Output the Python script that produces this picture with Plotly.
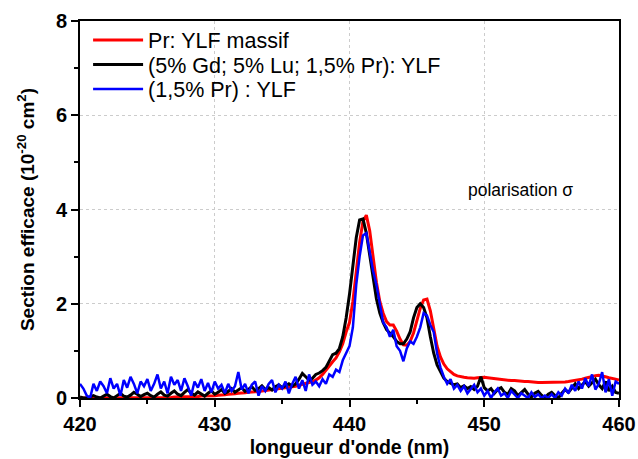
import numpy as np
import plotly.graph_objects as go

# wavelength grid (nm), 0.25 nm step
wavelength = [round(420 + 0.25 * i, 2) for i in range(161)]

red_massif = [
    0.0, 0.0, 0.0, 0.0, 0.0, 0.0, 0.0, 0.0, 0.0, 0.0, 0.0, 0.0, 0.0, 0.0, 0.0, 0.0, 0.0, 0.0, 0.0, 0.0,
    0.0, 0.0, 0.0, 0.0, 0.01, 0.01, 0.01, 0.01, 0.02, 0.02, 0.02, 0.02, 0.03, 0.03, 0.03, 0.03, 0.04, 0.04, 0.04, 0.05,
    0.05, 0.06, 0.06, 0.07, 0.08, 0.08, 0.09, 0.1, 0.1, 0.11, 0.12, 0.12, 0.13, 0.14, 0.15, 0.15, 0.16, 0.17, 0.18, 0.19,
    0.2, 0.21, 0.22, 0.23, 0.25, 0.27, 0.29, 0.3, 0.33, 0.35, 0.38, 0.43, 0.5, 0.58, 0.68, 0.77, 0.85, 0.98, 1.15, 1.4,
    1.6, 2.05, 2.65, 3.3, 3.75, 3.88, 3.55, 3.0, 2.45, 2.05, 1.8, 1.62, 1.55, 1.55, 1.42, 1.25, 1.13, 1.12, 1.2, 1.38,
    1.65, 1.9, 2.08, 2.1, 1.85, 1.45, 1.1, 0.87, 0.72, 0.62, 0.55, 0.5, 0.47, 0.45, 0.44, 0.43, 0.42, 0.42, 0.43, 0.44,
    0.44, 0.43, 0.42, 0.41, 0.4, 0.39, 0.38, 0.38, 0.37, 0.37, 0.36, 0.36, 0.35, 0.35, 0.34, 0.34, 0.33, 0.33, 0.33, 0.33,
    0.33, 0.33, 0.33, 0.34, 0.34, 0.35, 0.36, 0.37, 0.38, 0.4, 0.42, 0.44, 0.46, 0.47, 0.48, 0.47, 0.45, 0.43, 0.42, 0.4,
    0.38,
]

black_codoped = [
    0.02, 0.0, 0.0, 0.03, 0.05, 0.02, 0.0, 0.04, 0.08, 0.03, 0.0, 0.05, 0.1, 0.04, 0.02, 0.06, 0.12, 0.08, 0.03, 0.07,
    0.1, 0.05, 0.02, 0.08, 0.13, 0.06, 0.04, 0.1, 0.15, 0.08, 0.05, 0.12, 0.18, 0.1, 0.06, 0.13, 0.08, 0.04, 0.1, 0.15,
    0.08, 0.12, 0.18, 0.1, 0.14, 0.2, 0.12, 0.17, 0.22, 0.14, 0.18, 0.24, 0.16, 0.2, 0.26, 0.18, 0.22, 0.17, 0.24, 0.28,
    0.22, 0.26, 0.3, 0.25, 0.3, 0.4, 0.52, 0.45, 0.38, 0.42, 0.5, 0.53, 0.58, 0.65, 0.8, 0.92, 0.95, 1.05, 1.3, 1.7,
    2.2, 2.8, 3.4, 3.78, 3.8, 3.5, 3.0, 2.5, 2.1, 1.8, 1.6, 1.45, 1.38, 1.3, 1.2, 1.15, 1.15, 1.25, 1.4, 1.7,
    1.92, 2.0, 1.92, 1.7, 1.3, 0.95, 0.7, 0.55, 0.42, 0.35, 0.32, 0.28, 0.3, 0.22, 0.26, 0.2, 0.24, 0.18, 0.25, 0.45,
    0.22, 0.15, 0.2, 0.1, 0.18, 0.22, 0.12, 0.08, 0.2, 0.15, 0.05, 0.12, 0.18, 0.08, 0.02, 0.1, 0.14, 0.06, 0.0, 0.08,
    0.12, 0.05, 0.0, 0.1, 0.18, 0.12, 0.22, 0.3, 0.2, 0.28, 0.35, 0.25, 0.32, 0.4, 0.28, 0.2, 0.35, 0.15, 0.25, 0.12,
    0.1,
]

blue_pr = [
    0.3, 0.2, 0.05, 0.0, 0.3, 0.15, 0.35, 0.25, 0.1, 0.42, 0.2, 0.3, 0.05, 0.38, 0.22, 0.45, 0.3, 0.1, 0.35, 0.25,
    0.4, 0.15, 0.3, 0.5, 0.2, 0.35, 0.1, 0.45, 0.28, 0.38, 0.15, 0.42, 0.25, 0.05, 0.35, 0.22, 0.4, 0.15, 0.32, 0.12,
    0.35, 0.2, 0.28, 0.1, 0.3, 0.15, 0.25, 0.55, 0.18, 0.3, 0.1, 0.28, 0.35, 0.05, 0.25, 0.15, 0.3, 0.38, 0.12, 0.28,
    0.2, 0.35, 0.1, 0.3, 0.45, 0.2, 0.38, 0.15, 0.5, 0.28, 0.35, 0.25, 0.4, 0.3, 0.5, 0.45, 0.6, 0.55, 0.8, 0.95,
    1.1, 1.5, 2.4, 3.0, 3.45, 3.5, 3.1, 2.7, 2.4, 2.0, 1.6, 1.5, 1.3, 1.45, 1.1, 1.0, 0.78, 1.05, 1.2, 1.15,
    1.3, 1.5, 1.8, 1.75, 1.55, 1.4, 0.95, 0.65, 0.45, 0.3, 0.4, 0.2, 0.28, 0.15, 0.25, 0.1, 0.2, 0.28, 0.12, 0.2,
    0.05, 0.15, 0.0, 0.12, 0.2, 0.05, 0.1, 0.0, 0.15, 0.08, 0.0, 0.1, 0.05, 0.0, 0.12, 0.02, 0.08, 0.0, 0.05, 0.0,
    0.08, 0.0, 0.12, 0.05, 0.2, 0.1, 0.28, 0.15, 0.35, 0.2, 0.42, 0.25, 0.5, 0.18, 0.3, 0.55, 0.12, 0.4, 0.05, 0.35,
    0.3,
]

series_names = ["Pr: YLF massif", "(5% Gd; 5% Lu; 1,5% Pr): YLF", "(1,5% Pr) : YLF"]
series_colors = ["#ff0000", "#000000", "#0000ff"]
series_widths = [3, 3, 2.5]
legend_ids = ["legend", "legend2", "legend3"]

FONT = "Liberation Sans, Arial, sans-serif"

fig = go.Figure()
for name, ys, col, w, lg in zip(series_names, [red_massif, black_codoped, blue_pr],
                                series_colors, series_widths, legend_ids):
    fig.add_trace(go.Scatter(x=wavelength, y=ys, mode="lines", name=name,
                             line=dict(color=col, width=w), legend=lg))

fig.add_annotation(x=452.7, y=4.42, xref="x", yref="y", text="polarisation σ",
                   showarrow=False, font=dict(family=FONT, size=17.5, color="black"))

axis_common = dict(
    showline=True, linecolor="black", linewidth=2, mirror=True,
    ticks="outside", ticklen=7, tickwidth=2, tickcolor="black",
    showgrid=True, gridcolor="#cccccc", griddash="dot", gridwidth=1,
    zeroline=False, automargin=False,
    tickfont=dict(family=FONT, size=20, color="black", weight="bold"),
)

fig.update_xaxes(range=[420, 460], dtick=10,
                 minor=dict(dtick=5, ticks="outside", ticklen=4, tickwidth=1.5, tickcolor="black", showgrid=False),
                 title=dict(text="<b>longueur d'onde (nm)</b>", font=dict(family=FONT, size=19.5, color="black"), standoff=6),
                 **axis_common)
fig.update_yaxes(range=[0, 8], dtick=2,
                 minor=dict(dtick=1, ticks="outside", ticklen=4, tickwidth=1.5, tickcolor="black", showgrid=False),
                 title=dict(text="<b>Section efficace (10<sup>-20</sup> cm<sup>2</sup>)</b>", font=dict(family=FONT, size=19, color="black"), standoff=16),
                 **axis_common)

leg_common = dict(x=0.015, xanchor="left", yanchor="middle", bgcolor="rgba(0,0,0,0)",
                  font=dict(family=FONT, size=21.5, color="black"), itemwidth=50)
fig.update_layout(
    width=638, height=459,
    margin=dict(l=80, r=19, t=21, b=61),
    plot_bgcolor="white", paper_bgcolor="white",
    font=dict(family=FONT, color="black"),
    legend=dict(y=0.9496, **leg_common),
    legend2=dict(y=0.8846, **leg_common),
    legend3=dict(y=0.8196, **leg_common),
    showlegend=True,
)

fig.write_html("out.html", config={"displayModeBar": False},
               post_script="document.body.style.margin='0';document.body.style.overflow='hidden';")
